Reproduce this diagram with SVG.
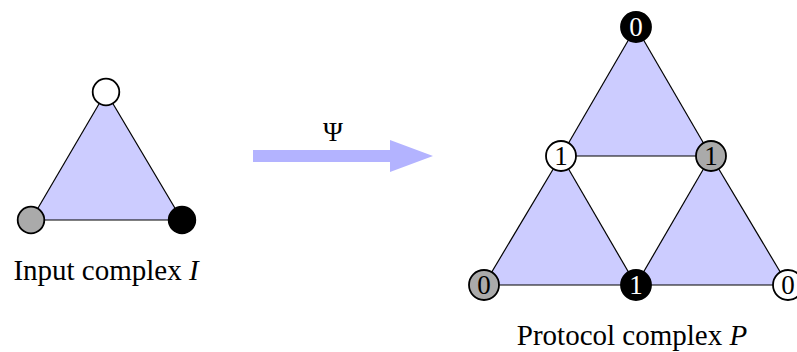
<svg xmlns="http://www.w3.org/2000/svg" width="797" height="352" viewBox="0 0 797 352">
<style>
.face{fill:#ccccff;stroke:none}
.edge{stroke:#000;stroke-width:1.2;fill:none}
.v{stroke:#000;stroke-width:1.8}
.w{fill:#fff}.g{fill:#aaaaaa}.b{fill:#000}
.lbl{font-family:"Liberation Serif","DejaVu Serif",serif;font-size:27px;text-anchor:middle}
.cap{font-family:"Liberation Serif","DejaVu Serif",serif;font-size:29px;text-anchor:middle;fill:#000}
.wt{fill:#fff}.bt{fill:#000}
</style>
<g id="faces">
<polygon class="face" points="106,92 31,220 182,220"/>
<polygon class="face" points="636,27 561,156 711,156"/>
<polygon class="face" points="561,156 484,285 636,285"/>
<polygon class="face" points="711,156 636,285 788,285"/>
</g>
<g id="connectors">
<line class="edge" x1="106" y1="92" x2="31" y2="220"/>
<line class="edge" x1="106" y1="92" x2="182" y2="220"/>
<line class="edge" x1="31" y1="220" x2="182" y2="220" stroke-width="1.6"/>
<line class="edge" x1="636" y1="27" x2="561" y2="156"/>
<line class="edge" x1="636" y1="27" x2="711" y2="156"/>
<line class="edge" x1="561" y1="156" x2="711" y2="156"/>
<line class="edge" x1="561" y1="156" x2="484" y2="285"/>
<line class="edge" x1="561" y1="156" x2="636" y2="285"/>
<line class="edge" x1="711" y1="156" x2="636" y2="285"/>
<line class="edge" x1="711" y1="156" x2="788" y2="285"/>
<line class="edge" x1="484" y1="285" x2="788" y2="285"/>
<g id="arrow-psi">
<polygon fill="#b3b3ff" points="253,150 390,150 390,140 433,156 390,172 390,162 253,162"/>
<text class="lbl bt" x="333" y="141">Ψ</text>
</g>
</g>
<g id="in-top"><circle class="v w" cx="106" cy="92" r="13.3"/></g>
<g id="in-left"><circle class="v g" cx="31" cy="220" r="13.3"/></g>
<g id="in-right"><circle class="v b" cx="182" cy="220" r="13.3"/></g>
<g id="p-top"><circle class="v b" cx="636" cy="27" r="15"/><text class="lbl wt" x="636" y="36">0</text></g>
<g id="p-midleft"><circle class="v w" cx="561" cy="156" r="15"/><text class="lbl bt" x="561" y="165">1</text></g>
<g id="p-midright"><circle class="v g" cx="711" cy="156" r="15"/><text class="lbl bt" x="711" y="165">1</text></g>
<g id="p-botleft"><circle class="v g" cx="484" cy="285" r="15"/><text class="lbl bt" x="484" y="294">0</text></g>
<g id="p-botmid"><circle class="v b" cx="636" cy="285" r="15"/><text class="lbl wt" x="636" y="294">1</text></g>
<g id="p-botright"><circle class="v w" cx="788" cy="285" r="15"/><text class="lbl bt" x="788" y="294">0</text></g>
<text class="cap" x="106" y="280">Input complex <tspan font-style="italic">I</tspan></text>
<text class="cap" x="632" y="345">Protocol complex <tspan font-style="italic">P</tspan></text>
</svg>
